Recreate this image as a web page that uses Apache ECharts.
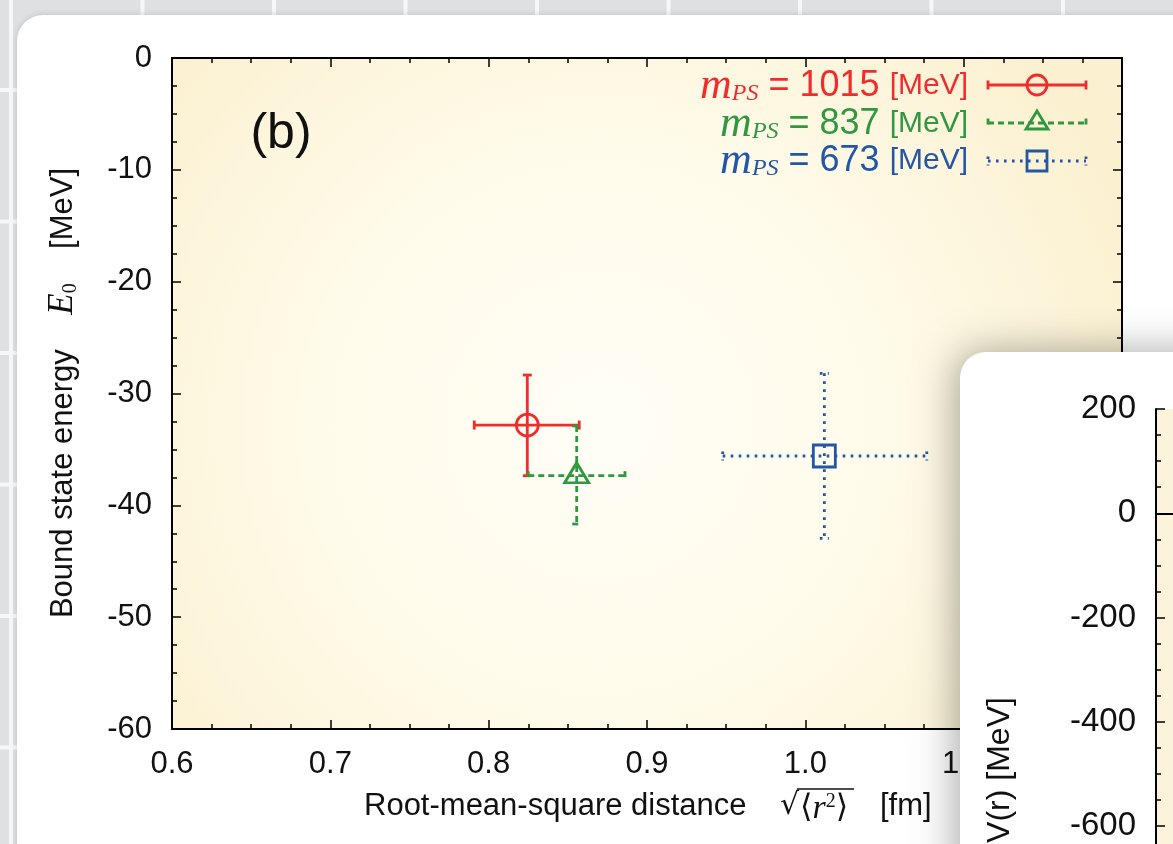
<!DOCTYPE html>
<html>
<head>
<meta charset="utf-8">
<script src="https://cdn.jsdelivr.net/npm/echarts@6/dist/echarts.min.js"></script>
<style>
html,body{margin:0;padding:0;background:#dfe0e2;}
#c{width:1173px;height:844px;}
</style>
</head>
<body>
<div id="c"></div>
<script>
// ---- data ----
const massLabels = ['1015', '837', '673'];            // m_PS [MeV]
const rmsDistance = [0.8244, 0.8556, 1.0120];          // sqrt(<r^2>) [fm]
const rmsLow = [0.7909, 0.8250, 0.9478];
const rmsHigh = [0.8572, 0.8861, 1.0767];
const boundEnergy = [-32.82, -37.35, -35.59];          // E0 [MeV]
const energyUpper = [-28.35, -32.90, -28.20];
const energyLower = [-37.35, -41.67, -42.95];
const xRange = [0.6, 1.2];
const yRange = [-60, 0];
const potentialRange = [-1200, 200];                   // V(r) axis of the overlapping chart

// ---- styles ----
const colors = ['#ee2d2d', '#2f9841', '#2356a6'];
const dashes = [null, [6, 4], [2.6, 5.4]];
const symbols = ['circle', 'triangle', 'rect'];
const symbolSizes = [22, [24, 20], 22];
const symbolOffsets = [[0, 0], [0, -3], [0, 0]];

const chart = echarts.init(document.getElementById('c'));

function errorBarSeries(i) {
  return {
    type: 'custom',
    name: 'err' + i,
    xAxisIndex: 0, yAxisIndex: 0,
    silent: true,
    z: 3,
    data: [[rmsDistance[i], boundEnergy[i], rmsLow[i], rmsHigh[i], energyUpper[i], energyLower[i]]],
    renderItem: function (params, api) {
      const xl = api.coord([api.value(2), api.value(1)]);
      const xh = api.coord([api.value(3), api.value(1)]);
      const yh = api.coord([api.value(0), api.value(4)]);
      const yl = api.coord([api.value(0), api.value(5)]);
      const cap = 4.5;
      const st = { stroke: colors[i], lineWidth: 2.8, lineDash: dashes[i], fill: null };
      const L = (x1, y1, x2, y2) => ({ type: 'line', shape: { x1, y1, x2, y2 }, style: st });
      return {
        type: 'group',
        children: [
          L(xl[0], xl[1], xh[0], xh[1]),
          L(yh[0], yh[1], yl[0], yl[1]),
          L(xl[0], xl[1] - cap, xl[0], xl[1] + cap),
          L(xh[0], xh[1] - cap, xh[0], xh[1] + cap),
          L(yh[0] - cap, yh[1], yh[0] + cap, yh[1]),
          L(yl[0] - cap, yl[1], yl[0] + cap, yl[1])
        ]
      };
    }
  };
}
function markerSeries(i) {
  return {
    type: 'scatter',
    name: 'm' + i,
    xAxisIndex: 0, yAxisIndex: 0,
    silent: true,
    z: 4,
    symbol: symbols[i],
    symbolSize: symbolSizes[i],
    symbolOffset: symbolOffsets[i],
    itemStyle: { color: 'rgba(0,0,0,0)', borderColor: colors[i], borderWidth: 2.8, opacity: 1 },
    data: [[rmsDistance[i], boundEnergy[i]]]
  };
}

const series = [];
for (let i = 0; i < massLabels.length; i++) { series.push(errorBarSeries(i)); series.push(markerSeries(i)); }

// ---- decorations (slide) ----
const graphics = [];
graphics.push({ type: 'rect', z: -100, shape: { x: 0, y: 0, width: 1173, height: 844 }, style: { fill: '#dfe0e2' } });
for (let k = 0; k < 10; k++) {
  graphics.push({ type: 'rect', z: -99, shape: { x: 9 + k * 131.5, y: 0, width: 4, height: 844 }, style: { fill: '#f7f7f8' } });
  graphics.push({ type: 'rect', z: -99, shape: { x: 0, y: 88 + k * 131.5, width: 1173, height: 4 }, style: { fill: '#f7f7f8' } });
}
graphics.push({ type: 'rect', z: -98, shape: { x: 17, y: 15, width: 1400, height: 1100, r: 26 },
  style: { fill: '#ffffff', shadowBlur: 6, shadowColor: 'rgba(0,0,0,0.15)' } });

// (b)
graphics.push({ type: 'text', z: 10, x: 281, y: 134,
  style: { text: '(b)', fontFamily: 'Liberation Sans', fontSize: 50, fill: '#111', align: 'center', verticalAlign: 'middle' } });

// legend
const legendY = [86, 124, 161];
const sampleY = [85, 123, 161];
for (let i = 0; i < massLabels.length; i++) {
  graphics.push({ type: 'text', z: 10, x: 968, y: legendY[i],
    style: {
      text: '{m|m}{s|PS}{n| = ' + massLabels[i] + ' }{u|[MeV]}',
      align: 'right', verticalAlign: 'middle',
      rich: {
        m: { fontFamily: 'Liberation Serif', fontStyle: 'italic', fontSize: 44, lineHeight: 40, fill: colors[i] },
        s: { fontFamily: 'Liberation Serif', fontStyle: 'italic', fontSize: 24, lineHeight: 20, verticalAlign: 'bottom', fill: colors[i] },
        n: { fontFamily: 'Liberation Sans', fontSize: 36, lineHeight: 40, fill: colors[i] },
        u: { fontFamily: 'Liberation Sans', fontSize: 30, lineHeight: 40, fill: colors[i] }
      }
    } });
  const st = { stroke: colors[i], lineWidth: 2.8, lineDash: dashes[i] };
  const y = sampleY[i];
  graphics.push({ type: 'line', z: 10, shape: { x1: 988, y1: y, x2: 1086, y2: y }, style: st });
  graphics.push({ type: 'line', z: 10, shape: { x1: 988, y1: y - 4.5, x2: 988, y2: y + 4.5 }, style: st });
  graphics.push({ type: 'line', z: 10, shape: { x1: 1086, y1: y - 4.5, x2: 1086, y2: y + 4.5 }, style: st });
}
graphics.push({ type: 'circle', z: 11, shape: { cx: 1037, cy: sampleY[0], r: 10 }, style: { fill: 'none', stroke: colors[0], lineWidth: 2.8 } });
graphics.push({ type: 'polygon', z: 11, shape: { points: [[1037, sampleY[1] - 12], [1048, sampleY[1] + 6], [1026, sampleY[1] + 6]] }, style: { fill: 'none', stroke: colors[1], lineWidth: 2.8 } });
graphics.push({ type: 'rect', z: 11, shape: { x: 1027, y: sampleY[2] - 10, width: 20, height: 20 }, style: { fill: 'none', stroke: colors[2], lineWidth: 2.8 } });

// axis titles
graphics.push({ type: 'text', z: 10, x: 63, y: 393, rotation: Math.PI / 2,
  style: {
    text: '{t|Bound state energy    }{E|E}{s|0}{t|    [MeV]}',
    align: 'center', verticalAlign: 'middle',
    rich: {
      t: { fontFamily: 'Liberation Sans', fontSize: 31, lineHeight: 36, fill: '#111' },
      E: { fontFamily: 'Liberation Serif', fontStyle: 'italic', fontSize: 35, lineHeight: 36, fill: '#111' },
      s: { fontFamily: 'Liberation Serif', fontSize: 20, lineHeight: 18, verticalAlign: 'bottom', fill: '#111' }
    }
  } });
graphics.push({ type: 'text', z: 10, x: 364, y: 806,
  style: { text: 'Root-mean-square distance', fontFamily: 'Liberation Sans', fontSize: 31, fill: '#111', align: 'left', verticalAlign: 'middle' } });
graphics.push({ type: 'text', z: 10, x: 780, y: 806,
  style: { text: '√', fontFamily: 'DejaVu Sans', fontSize: 30, fill: '#111', align: 'left', verticalAlign: 'middle' } });
graphics.push({ type: 'line', z: 10, shape: { x1: 797, y1: 789, x2: 854, y2: 789 }, style: { stroke: '#111', lineWidth: 1.6 } });
graphics.push({ type: 'text', z: 10, x: 800, y: 809,
  style: { text: '{b|⟨}{r|r}{p|2}{b|⟩}', align: 'left', verticalAlign: 'middle',
    rich: {
      b: { fontFamily: 'DejaVu Sans', fontSize: 32, lineHeight: 34, fill: '#111' },
      r: { fontFamily: 'Liberation Serif', fontStyle: 'italic', fontSize: 34, lineHeight: 34, fill: '#111' },
      p: { fontFamily: 'Liberation Serif', fontSize: 20, lineHeight: 20, verticalAlign: 'top', fill: '#111' }
    } } });
graphics.push({ type: 'text', z: 10, x: 880, y: 806,
  style: { text: '[fm]', fontFamily: 'Liberation Sans', fontSize: 31, fill: '#111', align: 'left', verticalAlign: 'middle' } });

// overlapping second slide panel
graphics.push({ type: 'rect', z: 50, shape: { x: 960, y: 352, width: 500, height: 700, r: 26 },
  style: { fill: '#ffffff', shadowBlur: 40, shadowColor: 'rgba(0,0,0,0.35)', shadowOffsetX: -4, shadowOffsetY: 0 } });
graphics.push({ type: 'text', z: 61, x: 1000, y: 770, rotation: Math.PI / 2,
  style: { text: 'V(r) [MeV]', fontFamily: 'Liberation Sans', fontSize: 32, fill: '#111', align: 'center', verticalAlign: 'middle' } });

const tickStyle = { color: '#000', width: 1.5 };
const axisBase = {
  axisLine: { show: true, onZero: false, lineStyle: { color: '#000', width: 2 } },
  axisTick: { show: true, inside: true, length: 9, lineStyle: tickStyle },
  minorTick: { show: true, splitNumber: 4, length: 5, lineStyle: tickStyle },
  splitLine: { show: false },
  minorSplitLine: { show: false }
};
const labelFont = { fontFamily: 'Liberation Sans', fontSize: 31, color: '#111' };

const option = {
  animation: false,
  graphic: graphics,
  grid: [
    { left: 172, top: 58, width: 950, height: 671, show: true, borderWidth: 0, containLabel: false, outerBoundsMode: 'none',
      backgroundColor: new echarts.graphic.RadialGradient(0.45, 0.55, 0.85, [
        { offset: 0, color: '#fffef6' },
        { offset: 0.5, color: '#fffbea' },
        { offset: 1, color: '#fbf0d0' }
      ]) },
    { left: 1156, top: 409, width: 400, height: 730, show: true, borderWidth: 0, containLabel: false, outerBoundsMode: 'none',
      backgroundColor: '#fcf4da', z: 60 }
  ],
  xAxis: [
    Object.assign({}, axisBase, { type: 'value', gridIndex: 0, position: 'bottom', min: xRange[0], max: xRange[1], interval: 0.1,
      axisLabel: Object.assign({ margin: 20, formatter: v => v.toFixed(1) }, labelFont) }),
    Object.assign({}, axisBase, { type: 'value', gridIndex: 0, position: 'top', min: xRange[0], max: xRange[1], interval: 0.1,
      axisLabel: { show: false } }),
    { type: 'value', gridIndex: 1, position: 'top', min: 0, max: 1, z: 61,
      axisLine: { show: true, lineStyle: { color: '#000', width: 2 } }, axisTick: { show: false }, axisLabel: { show: false }, splitLine: { show: false } }
  ],
  yAxis: [
    Object.assign({}, axisBase, { type: 'value', gridIndex: 0, position: 'left', min: yRange[0], max: yRange[1], interval: 10,
      axisLabel: Object.assign({ margin: 20 }, labelFont) }),
    Object.assign({}, axisBase, { type: 'value', gridIndex: 0, position: 'right', min: yRange[0], max: yRange[1], interval: 10,
      axisLabel: { show: false } }),
    Object.assign({}, axisBase, { type: 'value', gridIndex: 1, position: 'left', min: potentialRange[0], max: potentialRange[1], interval: 200, z: 61,
      axisLabel: Object.assign({}, labelFont, { margin: 20, fontSize: 33, formatter: v => String(v) }) })
  ],
  series: series
};
chart.setOption(option);
</script>
</body>
</html>
